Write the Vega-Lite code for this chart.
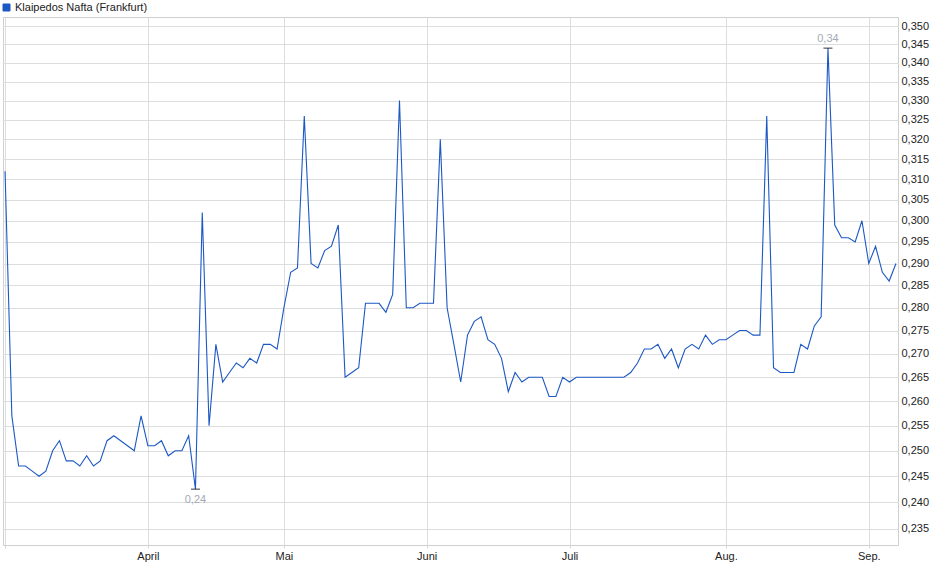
{
  "$schema": "https://vega.github.io/schema/vega-lite/v6.json",
  "width": 895,
  "height": 528,
  "autosize": {"type": "none"},
  "padding": {"left": 3, "top": 17, "right": 42, "bottom": 34},
  "background": "white",
  "config": {
    "locale": {"number": {"decimal": ",", "thousands": ".", "grouping": [3], "currency": ["", " €"]}},
    "view": {"stroke": "#cfcfcf", "strokeWidth": 1},
    "font": "Liberation Sans",
    "axis": {"gridColor": "#dddddd", "gridWidth": 1, "domain": false, "labelFont": "Liberation Sans", "labelFontSize": 11, "labelColor": "#222222"}
  },
  "data": {"values": [
    {"d": "2025-03-03", "v": 0.312}, {"d": "2025-03-04", "v": 0.257}, {"d": "2025-03-05", "v": 0.247}, {"d": "2025-03-06", "v": 0.247},
    {"d": "2025-03-07", "v": 0.246}, {"d": "2025-03-10", "v": 0.245}, {"d": "2025-03-11", "v": 0.246}, {"d": "2025-03-12", "v": 0.250},
    {"d": "2025-03-13", "v": 0.252}, {"d": "2025-03-14", "v": 0.248}, {"d": "2025-03-17", "v": 0.248}, {"d": "2025-03-18", "v": 0.247},
    {"d": "2025-03-19", "v": 0.249}, {"d": "2025-03-20", "v": 0.247}, {"d": "2025-03-21", "v": 0.248}, {"d": "2025-03-24", "v": 0.252},
    {"d": "2025-03-25", "v": 0.253}, {"d": "2025-03-26", "v": 0.252}, {"d": "2025-03-27", "v": 0.251}, {"d": "2025-03-28", "v": 0.250},
    {"d": "2025-03-31", "v": 0.257}, {"d": "2025-04-01", "v": 0.251}, {"d": "2025-04-02", "v": 0.251}, {"d": "2025-04-03", "v": 0.252},
    {"d": "2025-04-04", "v": 0.249}, {"d": "2025-04-07", "v": 0.250}, {"d": "2025-04-08", "v": 0.250}, {"d": "2025-04-09", "v": 0.253},
    {"d": "2025-04-10", "v": 0.2425}, {"d": "2025-04-11", "v": 0.302}, {"d": "2025-04-14", "v": 0.255}, {"d": "2025-04-15", "v": 0.272},
    {"d": "2025-04-16", "v": 0.264}, {"d": "2025-04-17", "v": 0.266}, {"d": "2025-04-22", "v": 0.268}, {"d": "2025-04-23", "v": 0.267},
    {"d": "2025-04-24", "v": 0.269}, {"d": "2025-04-25", "v": 0.268}, {"d": "2025-04-28", "v": 0.272}, {"d": "2025-04-29", "v": 0.272},
    {"d": "2025-04-30", "v": 0.271}, {"d": "2025-05-02", "v": 0.280}, {"d": "2025-05-05", "v": 0.288}, {"d": "2025-05-06", "v": 0.289},
    {"d": "2025-05-07", "v": 0.326}, {"d": "2025-05-08", "v": 0.290}, {"d": "2025-05-09", "v": 0.289}, {"d": "2025-05-12", "v": 0.293},
    {"d": "2025-05-13", "v": 0.294}, {"d": "2025-05-14", "v": 0.299}, {"d": "2025-05-15", "v": 0.265}, {"d": "2025-05-16", "v": 0.266},
    {"d": "2025-05-19", "v": 0.267}, {"d": "2025-05-20", "v": 0.281}, {"d": "2025-05-21", "v": 0.281}, {"d": "2025-05-22", "v": 0.281},
    {"d": "2025-05-23", "v": 0.279}, {"d": "2025-05-26", "v": 0.283}, {"d": "2025-05-27", "v": 0.330}, {"d": "2025-05-28", "v": 0.280},
    {"d": "2025-05-29", "v": 0.280}, {"d": "2025-05-30", "v": 0.281}, {"d": "2025-06-02", "v": 0.281}, {"d": "2025-06-03", "v": 0.281},
    {"d": "2025-06-04", "v": 0.320}, {"d": "2025-06-05", "v": 0.280}, {"d": "2025-06-06", "v": 0.272}, {"d": "2025-06-09", "v": 0.264},
    {"d": "2025-06-10", "v": 0.274}, {"d": "2025-06-11", "v": 0.277}, {"d": "2025-06-12", "v": 0.278}, {"d": "2025-06-13", "v": 0.273},
    {"d": "2025-06-16", "v": 0.272}, {"d": "2025-06-17", "v": 0.269}, {"d": "2025-06-18", "v": 0.262}, {"d": "2025-06-19", "v": 0.266},
    {"d": "2025-06-20", "v": 0.264}, {"d": "2025-06-23", "v": 0.265}, {"d": "2025-06-24", "v": 0.265}, {"d": "2025-06-25", "v": 0.265},
    {"d": "2025-06-26", "v": 0.261}, {"d": "2025-06-27", "v": 0.261}, {"d": "2025-06-30", "v": 0.265}, {"d": "2025-07-01", "v": 0.264},
    {"d": "2025-07-02", "v": 0.265}, {"d": "2025-07-03", "v": 0.265}, {"d": "2025-07-04", "v": 0.265}, {"d": "2025-07-07", "v": 0.265},
    {"d": "2025-07-08", "v": 0.265}, {"d": "2025-07-09", "v": 0.265}, {"d": "2025-07-10", "v": 0.265}, {"d": "2025-07-11", "v": 0.265},
    {"d": "2025-07-14", "v": 0.266}, {"d": "2025-07-15", "v": 0.268}, {"d": "2025-07-16", "v": 0.271}, {"d": "2025-07-17", "v": 0.271},
    {"d": "2025-07-18", "v": 0.272}, {"d": "2025-07-21", "v": 0.269}, {"d": "2025-07-22", "v": 0.271}, {"d": "2025-07-23", "v": 0.267},
    {"d": "2025-07-24", "v": 0.271}, {"d": "2025-07-25", "v": 0.272}, {"d": "2025-07-28", "v": 0.271}, {"d": "2025-07-29", "v": 0.274},
    {"d": "2025-07-30", "v": 0.272}, {"d": "2025-07-31", "v": 0.273}, {"d": "2025-08-01", "v": 0.273}, {"d": "2025-08-04", "v": 0.274},
    {"d": "2025-08-05", "v": 0.275}, {"d": "2025-08-06", "v": 0.275}, {"d": "2025-08-07", "v": 0.274}, {"d": "2025-08-08", "v": 0.274},
    {"d": "2025-08-11", "v": 0.326}, {"d": "2025-08-12", "v": 0.267}, {"d": "2025-08-13", "v": 0.266}, {"d": "2025-08-14", "v": 0.266},
    {"d": "2025-08-15", "v": 0.266}, {"d": "2025-08-18", "v": 0.272}, {"d": "2025-08-19", "v": 0.271}, {"d": "2025-08-20", "v": 0.276},
    {"d": "2025-08-21", "v": 0.278}, {"d": "2025-08-22", "v": 0.344}, {"d": "2025-08-25", "v": 0.299}, {"d": "2025-08-26", "v": 0.296},
    {"d": "2025-08-27", "v": 0.296}, {"d": "2025-08-28", "v": 0.295}, {"d": "2025-08-29", "v": 0.300}, {"d": "2025-09-01", "v": 0.290},
    {"d": "2025-09-02", "v": 0.294}, {"d": "2025-09-03", "v": 0.288}, {"d": "2025-09-04", "v": 0.286}, {"d": "2025-09-05", "v": 0.290}
  ]},
  "encoding": {
    "x": {
      "field": "d", "type": "ordinal",
      "scale": {"type": "point", "padding": 0.3},
      "axis": {
        "title": null,
        "values": ["2025-03-03", "2025-04-01", "2025-05-02", "2025-06-02", "2025-07-01", "2025-08-01", "2025-09-01"],
        "labelExpr": "substring(datum.value,5,7) == '04' ? 'April' : substring(datum.value,5,7) == '05' ? 'Mai' : substring(datum.value,5,7) == '06' ? 'Juni' : substring(datum.value,5,7) == '07' ? 'Juli' : substring(datum.value,5,7) == '08' ? 'Aug.' : substring(datum.value,5,7) == '09' ? 'Sep.' : ''",
        "labelAngle": 0,
        "grid": true,
        "tickSize": 3,
        "tickColor": "#d6d6d6",
        "labelPadding": 2
      }
    },
    "y": {
      "field": "v", "type": "quantitative",
      "scale": {"type": "log", "domain": [0.232, 0.3526], "nice": false, "zero": false},
      "axis": {
        "title": null,
        "orient": "right",
        "values": [0.235, 0.24, 0.245, 0.25, 0.255, 0.26, 0.265, 0.27, 0.275, 0.28, 0.285, 0.29, 0.295, 0.3, 0.305, 0.31, 0.315, 0.32, 0.325, 0.33, 0.335, 0.34, 0.345, 0.35],
        "format": ".3f",
        "grid": true,
        "tickSize": 0,
        "labelPadding": 3
      }
    }
  },
  "layer": [
    {
      "mark": {"type": "line", "strokeWidth": 1.1, "interpolate": "linear"},
      "encoding": {
        "color": {
          "datum": "Klaipedos Nafta (Frankfurt)",
          "scale": {"range": ["#1c58c4"]},
          "legend": {
            "title": null,
            "orient": "none",
            "legendX": -2,
            "legendY": -15,
            "symbolType": "square",
            "symbolSize": 49,
            "labelFont": "Liberation Sans",
            "labelFontSize": 11,
            "labelColor": "#222222",
            "labelOffset": 3,
            "padding": 0,
            "encode": {"symbols": {"update": {"fill": {"value": "#1c58c4"}, "stroke": {"value": "#16408f"}, "strokeWidth": {"value": 1}}}}
          }
        }
      }
    },
    {
      "transform": [
        {"joinaggregate": [{"op": "max", "field": "v", "as": "vmax"}]},
        {"filter": "datum.v == datum.vmax"}
      ],
      "layer": [
        {"mark": {"type": "tick", "orient": "horizontal", "size": 9, "thickness": 1.2, "color": "#111111"}},
        {"mark": {"type": "text", "dy": -9, "fontSize": 11, "font": "Liberation Sans", "color": "#a3aab6"},
         "encoding": {"text": {"field": "v", "type": "quantitative", "format": ".2f"}}}
      ]
    },
    {
      "transform": [
        {"joinaggregate": [{"op": "min", "field": "v", "as": "vmin"}]},
        {"filter": "datum.v == datum.vmin"}
      ],
      "layer": [
        {"mark": {"type": "tick", "orient": "horizontal", "size": 9, "thickness": 1.2, "color": "#111111"}},
        {"mark": {"type": "text", "dy": 11, "fontSize": 11, "font": "Liberation Sans", "color": "#a3aab6"},
         "encoding": {"text": {"field": "v", "type": "quantitative", "format": ".2f"}}}
      ]
    }
  ]
}
